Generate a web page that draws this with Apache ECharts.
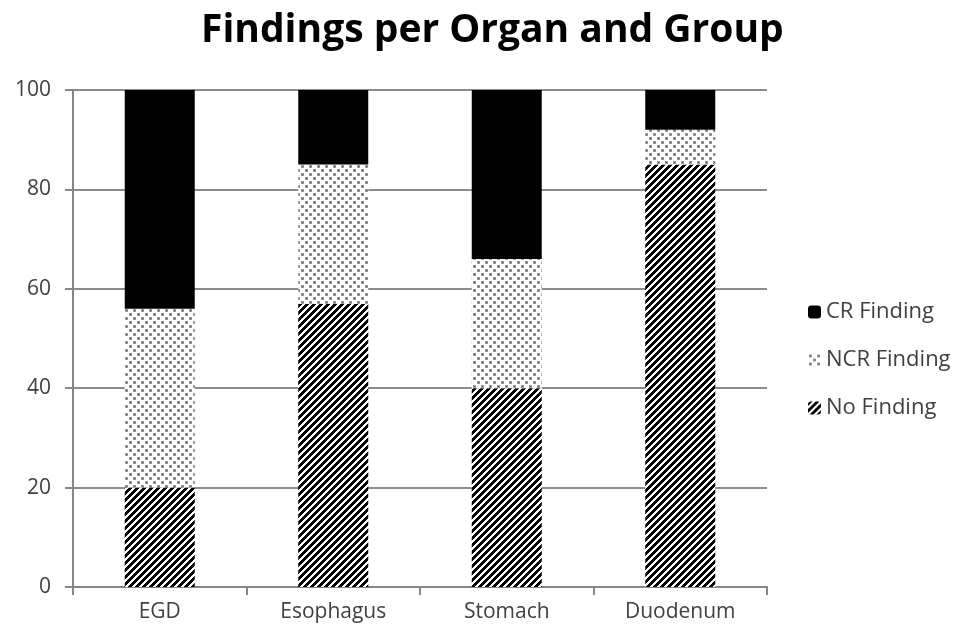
<!DOCTYPE html>
<html>
<head>
<meta charset="utf-8">
<script src="https://cdn.jsdelivr.net/npm/echarts@6/dist/echarts.min.js"></script>
<style>
  html, body { margin: 0; padding: 0; background: #fff; }
  #chart { width: 957px; height: 634px; }
</style>
</head>
<body>
<div id="chart"></div>
<script>
// Organs on the x axis
var organs = ['EGD', 'Esophagus', 'Stomach', 'Duodenum'];
// Share of each finding type per organ (stacked to 100)
var noFinding = [20, 57, 40, 85];
var ncrFinding = [36, 28, 26, 7];
var crFinding = [44, 15, 34, 8];
// Value axis tick labels
var yTicks = [0, 20, 40, 60, 80, 100];

// Black "/" hatch tile, built pixel by pixel so it repeats seamlessly
function hatchTile() {
  var s = 7;
  var c = document.createElement('canvas');
  c.width = s; c.height = s;
  var g = c.getContext('2d');
  g.fillStyle = '#fff';
  g.fillRect(0, 0, s, s);
  g.fillStyle = '#000';
  for (var y = 0; y < s; y++) {
    for (var x = 0; x < s; x++) {
      if ((x + y) % s < 4) g.fillRect(x, y, 1, 1);
    }
  }
  return c;
}
// Staggered grey dot tile
function dotTile() {
  var c = document.createElement('canvas');
  c.width = 8; c.height = 8;
  var g = c.getContext('2d');
  g.fillStyle = '#fff';
  g.fillRect(0, 0, 8, 8);
  g.fillStyle = '#999';
  g.fillRect(1, 1, 3, 3);
  g.fillRect(5, 5, 3, 3);
  g.fillStyle = '#555';
  g.fillRect(2, 2, 1, 1);
  g.fillRect(6, 6, 1, 1);
  return c;
}

var hatch = { image: hatchTile(), repeat: 'repeat' };
var dots = { image: dotTile(), repeat: 'repeat' };

var chart = echarts.init(document.getElementById('chart'), null, { renderer: 'canvas' });
var labelFont = '"Open Sans", "Noto Sans", sans-serif';

chart.setOption({
  animation: false,
  backgroundColor: '#fff',
  title: {
    text: 'Findings per Organ and Group',
    left: 196,
    top: 6,
    textStyle: { fontFamily: labelFont, fontWeight: 'bold', fontSize: 39, color: '#000' }
  },
  legend: {
    orient: 'vertical',
    left: 803,
    top: 296,
    itemGap: 26,
    itemWidth: 13,
    itemHeight: 13,
    textStyle: { fontFamily: labelFont, fontSize: 22, color: '#404040' },
    data: ['CR Finding', 'NCR Finding', 'No Finding']
  },
  grid: { left: 73, right: 190, top: 90, bottom: 47, containLabel: false },
  xAxis: {
    type: 'category',
    data: organs,
    axisLine: { lineStyle: { color: '#868686', width: 2 } },
    axisTick: { show: true, length: 8, lineStyle: { color: '#868686', width: 2 } },
    axisLabel: { fontFamily: labelFont, fontSize: 21, color: '#404040', margin: 15 }
  },
  yAxis: {
    type: 'value',
    min: yTicks[0],
    max: yTicks[yTicks.length - 1],
    interval: yTicks[1] - yTicks[0],
    axisLine: { show: true, lineStyle: { color: '#868686', width: 2 } },
    axisTick: { show: true, length: 8, lineStyle: { color: '#868686', width: 2 } },
    axisLabel: { fontFamily: labelFont, fontSize: 21, color: '#404040', margin: 22 },
    splitLine: { lineStyle: { color: '#8c8c8c', width: 2 } }
  },
  series: [
    { name: 'No Finding', type: 'bar', stack: 'all', barWidth: 70, data: noFinding,
      itemStyle: { color: hatch } },
    { name: 'NCR Finding', type: 'bar', stack: 'all', barWidth: 70, data: ncrFinding,
      itemStyle: { color: dots } },
    { name: 'CR Finding', type: 'bar', stack: 'all', barWidth: 70, data: crFinding,
      itemStyle: { color: '#000' } }
  ]
});
</script>
</body>
</html>
